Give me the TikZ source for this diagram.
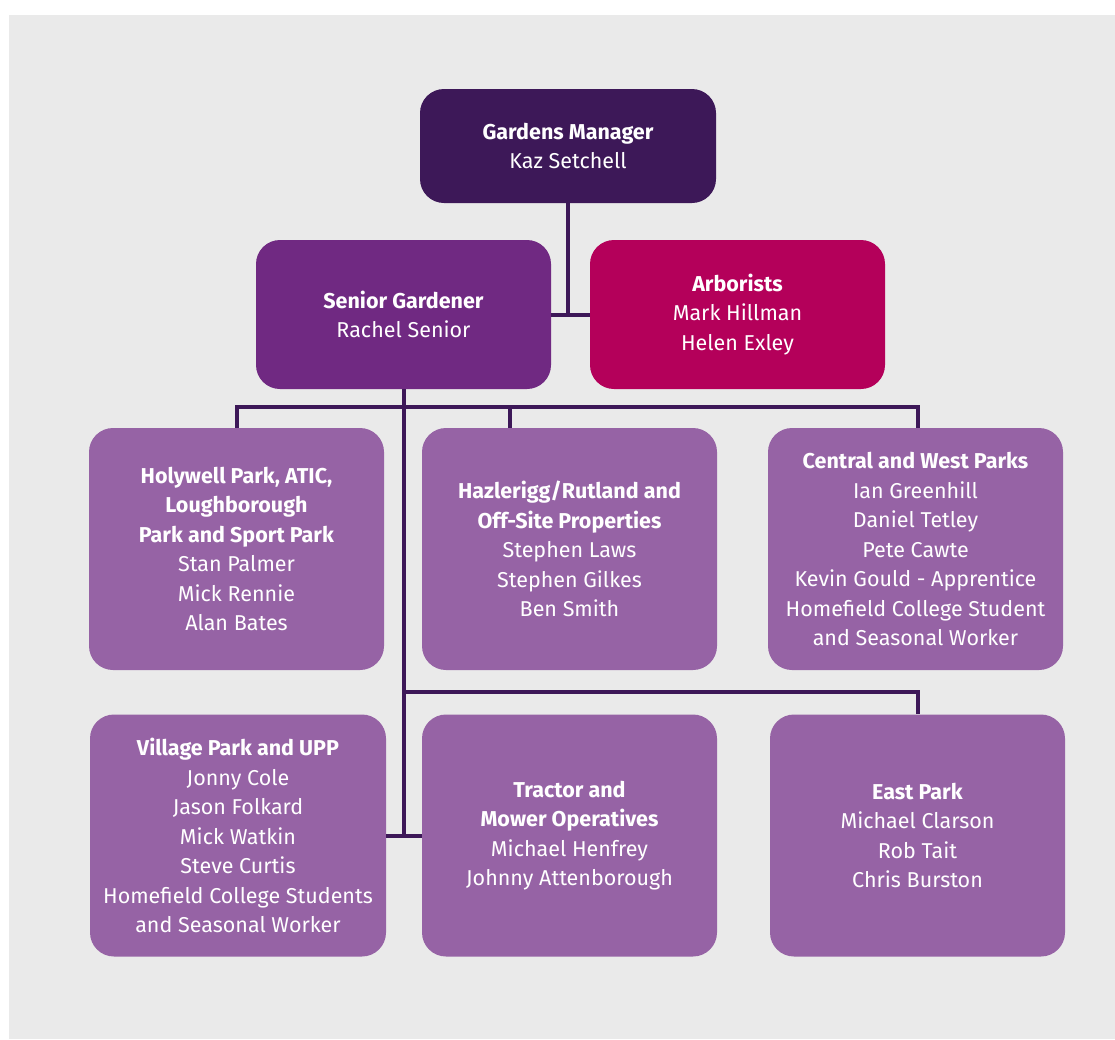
\documentclass[tikz,border=0pt]{standalone}
\usepackage{fontspec}
\setmainfont{Fira Sans}
\usepackage{xcolor}
\usetikzlibrary{calc}
\definecolor{darkplum}{HTML}{3D1858}
\definecolor{plum}{HTML}{702982}
\definecolor{berry}{HTML}{B4005A}
\definecolor{lilac}{HTML}{9663A5}
\definecolor{bggrey}{HTML}{EAEAEA}

\begin{document}
\begin{tikzpicture}[x=1pt,y=-1pt,
	unit/.style={rectangle,rounded corners=24pt,fill=lilac,text=white,minimum width=295pt,minimum height=242pt,align=center,inner sep=0pt,font=\fontsize{21.5}{29.5}\selectfont},
	link/.style={draw=darkplum,line width=4pt}]
		\useasboundingbox (0,0) rectangle (1115,1039);
		\fill[bggrey] (9,15) rectangle (1115,1039);
		% top of the tree
		\node[unit,fill=darkplum,minimum width=296pt,minimum height=114pt] (manager) at (568,146) {\textbf{Gardens Manager}\\Kaz Setchell};
		\node[unit,fill=plum,minimum height=149pt] (senior) at (403.5,314.5) {\textbf{Senior Gardener}\\Rachel Senior};
		\node[unit,fill=berry,minimum height=149pt] (arborists) at (737.5,314.5) {\textbf{Arborists}\\Mark Hillman\\Helen Exley};
		% teams
		\node[unit] (holywell) at (236.5,549) {\textbf{Holywell Park, ATIC,}\\\textbf{Loughborough}\\\textbf{Park and Sport Park}\\Stan Palmer\\Mick Rennie\\Alan Bates};
		\node[unit] (hazlerigg) at (569.5,549) {\textbf{Hazlerigg/Rutland and}\\\textbf{Off-Site Properties}\\Stephen Laws\\Stephen Gilkes\\Ben Smith};
		\node[unit] (central) at (915.5,549) {\textbf{Central and West Parks}\\Ian Greenhill\\Daniel Tetley\\Pete Cawte\\Kevin Gould - Apprentice\\Homefield College Student\\and Seasonal Worker};
		\node[unit,minimum width=296pt] (village) at (238,835.5) {\textbf{Village Park and UPP}\\Jonny Cole\\Jason Folkard\\Mick Watkin\\Steve Curtis\\Homefield College Students\\and Seasonal Worker};
		\node[unit] (tractor) at (569.5,835.5) {\textbf{Tractor and}\\\textbf{Mower Operatives}\\Michael Henfrey\\Johnny Attenborough};
		\node[unit] (east) at (917.5,835.5) {\textbf{East Park}\\Michael Clarson\\Rob Tait\\Chris Burston};
		% connectors
		\draw[link] (manager.south) -- (manager.south |- senior.east);
		\draw[link] (senior.east) -- (arborists.west);
		\draw[link] (senior.south) -- (senior.south |- village.east);
		\draw[link] (village.east) -- (tractor.west);
		\coordinate (busA) at ($(senior.south)+(0,18)$);
		\coordinate (hazdrop) at (510,407);
		\coordinate (cendrop) at ($(central.north)+(2,0)$);
		\coordinate (busB) at (404,692);
		\draw[link] (holywell.north) |- (busA) -| (cendrop);
		\draw[link] (hazdrop) -- (hazdrop |- hazlerigg.north);
		\draw[link] (busB) -| (east.north);
	\end{tikzpicture}
\end{document}
